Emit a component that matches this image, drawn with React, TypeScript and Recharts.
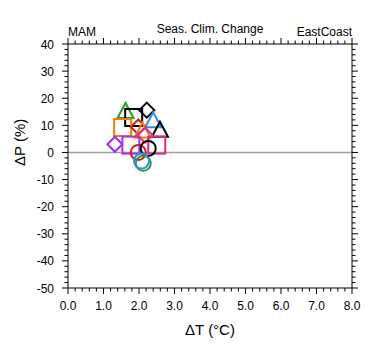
import React from "react"
import { ScatterChart, Scatter, XAxis, YAxis, ReferenceLine } from "recharts"

// model results, MAM, EastCoast
const dT = [1.62, 1.85, 2.22, 2.4, 2.59, 1.54, 1.98, 2.1, 1.32, 1.77, 2.5, 2.17, 1.98, 2.26, 2.12, 2.07]
const dP = [15.3, 12.9, 15.6, 11.9, 8.4, 9.2, 9.4, 8.1, 3.0, 2.7, 2.7, 6.4, 0.0, 1.5, -4.0, -3.2]

const markerShape = [
  "triangle", "square", "diamond", "triangle", "triangle", "square", "diamond", "triangle",
  "diamond", "square", "square", "diamond", "circle", "circle", "circle", "circle",
]
const markerColor = [
  "#2e9a2e", "#000000", "#000000", "#2b8fe8", "#000000", "#f07c0a", "#c8201e", "#f07c0a",
  "#a526f0", "#b32ee0", "#e0288c", "#e0288c", "#c8201e", "#000000", "#2e9a2e", "#2b8fe8",
]

const xMajor = [0, 1, 2, 3, 4, 5, 6, 7, 8]
const xLabels = ["0.0", "1.0", "2.0", "3.0", "4.0", "5.0", "6.0", "7.0", "8.0"]
const yMajor = [-50, -40, -30, -20, -10, 0, 10, 20, 30, 40]
const yLabels = ["-50", "-40", "-30", "-20", "-10", "0", "10", "20", "30", "40"]

const xTicks = xMajor.slice(0, -1).flatMap((v) => [0, 0.2, 0.4, 0.6, 0.8].map((f) => +(v + f).toFixed(1))).concat([8])
const yTicks = yMajor.slice(0, -1).flatMap((v) => [0, 2, 4, 6, 8].map((f) => v + f)).concat([40])

const FONT = "'Liberation Sans', Arial, Helvetica, sans-serif"

const points = dT.map((t, i) => ({ dT: t, dP: dP[i] }))

function Marker({ cx, cy, shape, color }: any) {
  const common = { fill: "none", stroke: color, strokeWidth: 2 }
  if (shape === "circle") return <circle cx={cx} cy={cy} r={7.5} {...common} />
  if (shape === "square") return <rect x={cx - 8.5} y={cy - 8.5} width={17} height={17} {...common} />
  if (shape === "diamond")
    return <polygon points={`${cx},${cy - 7.5} ${cx + 7.5},${cy} ${cx},${cy + 7.5} ${cx - 7.5},${cy}`} {...common} />
  return <polygon points={`${cx},${cy - 8} ${cx + 8},${cy + 7} ${cx - 8},${cy + 7}`} {...common} />
}

function makeXTick(side: "bottom" | "top") {
  return (props: any) => {
    const { x, y, payload } = props
    const v = payload.value
    const i = xMajor.indexOf(v)
    const major = i >= 0
    const len = major ? 6 : 3.5
    const dir = side === "bottom" ? 1 : -1
    return (
      <g>
        <line x1={x} x2={x} y1={y} y2={y + dir * len} stroke="#000" strokeWidth={1} />
        {major && side === "bottom" && (
          <text x={x} y={y + 22} textAnchor="middle" fontSize={12} fontFamily={FONT} fill="#000">
            {xLabels[i]}
          </text>
        )}
      </g>
    )
  }
}

function makeYTick(side: "left" | "right") {
  return (props: any) => {
    const { x, y, payload } = props
    const v = payload.value
    const i = yMajor.indexOf(v)
    const major = i >= 0
    const len = major ? 6 : 3.5
    const dir = side === "left" ? -1 : 1
    return (
      <g>
        <line x1={x} x2={x + dir * len} y1={y} y2={y} stroke="#000" strokeWidth={1} />
        {major && side === "left" && (
          <text x={x - 14} y={y + 4.5} textAnchor="end" fontSize={12} fontFamily={FONT} fill="#000">
            {yLabels[i]}
          </text>
        )}
      </g>
    )
  }
}

export default function App() {
  return (
    <div style={{ position: "absolute", left: 0, top: 0, width: 380, height: 355, background: "#fff", fontFamily: FONT }}>
      <div style={{ position: "absolute", left: 68, top: 25, fontSize: 12 }}>MAM</div>
      <div style={{ position: "absolute", left: 0, width: 420, top: 22, fontSize: 12, textAlign: "center" }}>
        Seas. Clim. Change
      </div>
      <div style={{ position: "absolute", right: 28, top: 25, fontSize: 12 }}>EastCoast</div>
      <ScatterChart width={380} height={355} margin={{ top: 43, right: 27, bottom: 0, left: 0 }}>
        <XAxis
          xAxisId="b"
          dataKey="dT"
          type="number"
          domain={[0, 8]}
          ticks={xTicks}
          interval={0}
          height={67}
          tickSize={0}
          tickMargin={0}
          tickLine={false}
          tick={makeXTick("bottom")}
          stroke="#000"
          label={{ value: "ΔT (°C)", position: "insideBottom", offset: 20, fontSize: 15, fontFamily: FONT, fill: "#000" }}
        />
        <XAxis
          xAxisId="t"
          dataKey="dT"
          orientation="top"
          type="number"
          domain={[0, 8]}
          ticks={xTicks}
          interval={0}
          height={1}
          tickSize={0}
          tickMargin={0}
          tickLine={false}
          tick={makeXTick("top")}
          stroke="#000"
        />
        <YAxis
          yAxisId="l"
          dataKey="dP"
          type="number"
          domain={[-50, 40]}
          ticks={yTicks}
          interval={0}
          width={68}
          tickSize={0}
          tickMargin={0}
          tickLine={false}
          tick={makeYTick("left")}
          stroke="#000"
          label={{ value: "ΔP (%)", angle: -90, position: "insideLeft", offset: 20, fontSize: 15, fontFamily: FONT, fill: "#000" }}
        />
        <YAxis
          yAxisId="r"
          dataKey="dP"
          orientation="right"
          type="number"
          domain={[-50, 40]}
          ticks={yTicks}
          interval={0}
          width={1}
          tickSize={0}
          tickMargin={0}
          tickLine={false}
          tick={makeYTick("right")}
          stroke="#000"
        />
        <ReferenceLine xAxisId="b" yAxisId="l" y={0} stroke="#a0a0a0" strokeWidth={1.5} />
        {/* invisible series so the mirrored top/right axes get drawn */}
        <Scatter xAxisId="t" yAxisId="r" data={points} isAnimationActive={false} shape={() => <g />} />
        {points.map((p, i) => (
          <Scatter
            key={i}
            xAxisId="b"
            yAxisId="l"
            data={[p]}
            isAnimationActive={false}
            shape={(sp: any) => <Marker cx={sp.cx} cy={sp.cy} shape={markerShape[i]} color={markerColor[i]} />}
          />
        ))}
      </ScatterChart>
    </div>
  )
}
